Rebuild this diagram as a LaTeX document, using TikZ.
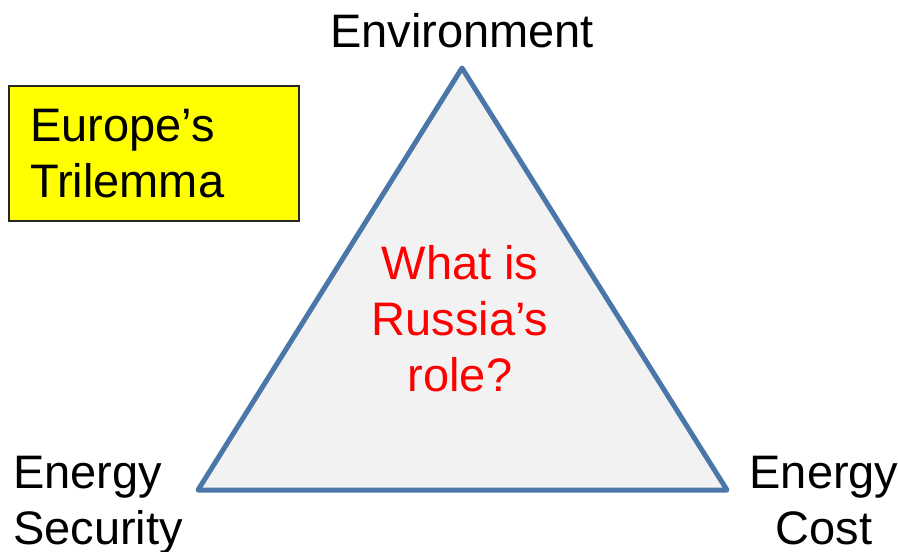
\documentclass[tikz,border=0pt]{standalone}
\usepackage{fontspec}
\setmainfont{Liberation Sans}
\definecolor{triblue}{RGB}{74,118,168}
\definecolor{trifill}{RGB}{242,242,242}
\definecolor{boxyellow}{RGB}{255,255,0}
\begin{document}
\begin{tikzpicture}[x=1pt,y=-1pt,
  lbl/.style={inner sep=0pt,font=\fontsize{47}{56}\selectfont},
  tri/.style={draw=triblue,line width=5pt,line join=round,fill=trifill}]
\useasboundingbox (0,0) rectangle (898,552);
\coordinate (top) at (462,68);
\coordinate (bl) at (198,490);
\coordinate (br) at (727,490);
\draw[tri] (top) -- (bl) -- (br) -- cycle;
\node[draw=black!85,line width=1.5pt,fill=boxyellow,inner sep=0pt,anchor=north west,minimum width=290pt,minimum height=135pt] (box) at (8,85) {};
\node[lbl,align=left,anchor=north west] (trilemma) at (30,109) {Europe’s\\Trilemma};
\node[lbl,anchor=base] (env) at (462,47) {Environment};
\node[lbl,align=center,anchor=north,text=red] (russia) at (460,245) {What is\\Russia’s\\role?};
\node[lbl,align=left,anchor=north west] (sec) at (13,456) {Energy\\Security};
\node[lbl,align=center,anchor=north] (cost) at (824,456) {Energy\\Cost};
\end{tikzpicture}
\end{document}
